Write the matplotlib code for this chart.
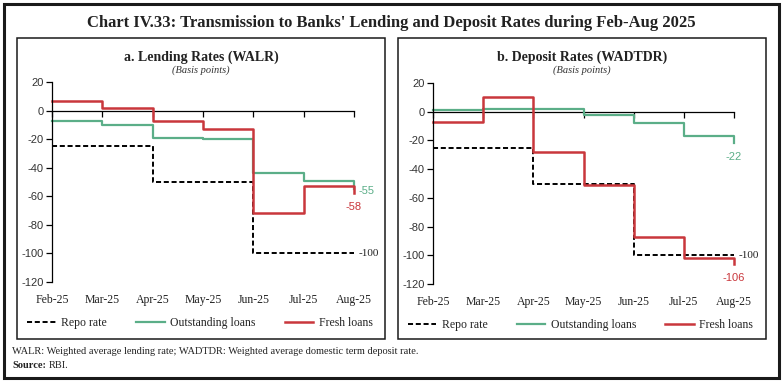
import matplotlib
matplotlib.use('Agg')
import matplotlib.pyplot as plt
import matplotlib.transforms as mtransforms
from matplotlib.patches import Rectangle

plt.rcParams['axes.unicode_minus'] = False

# dates and values (basis points)
months = ['Feb-25', 'Mar-25', 'Apr-25', 'May-25', 'Jun-25', 'Jul-25', 'Aug-25']

repo_rate = [-25, -25, -50, -50, -100, -100, -100]

# a. lending rates (WALR)
walr_outstanding = [-7, -10, -19, -20, -44, -49, -55]
walr_fresh = [7, 2, -7, -13, -72, -53, -58]

# b. deposit rates (WADTDR)
wadtdr_outstanding = [1, 2, 2, -2, -8, -17, -22]
wadtdr_fresh = [-7, 10, -28, -51, -87, -102, -106]

serif = 'Liberation Serif'
sans = 'Liberation Sans'
green = '#5BAE88'
red = '#C9373C'

W, H = 782, 383
fig = plt.figure(figsize=(W / 100, H / 100), dpi=100)

def fx(px):
    return px / W

def fy(py):
    return 1 - py / H

# outer frame and panel boxes
fig.patches.append(Rectangle((fx(4), fy(378)), fx(775), 374 / H, transform=fig.transFigure,
                             fill=False, lw=2.2, ec='#1a1a1a'))
for x0, x1 in [(17, 385), (398, 766)]:
    fig.patches.append(Rectangle((fx(x0), fy(339)), fx(x1 - x0), 301 / H, transform=fig.transFigure,
                                 fill=False, lw=1.1, ec='#1a1a1a'))

fig.text(0.5, fy(23), "Chart IV.33: Transmission to Banks' Lending and Deposit Rates during Feb-Aug 2025",
         ha='center', va='center', fontsize=12, fontweight='bold', family=serif, color='#222222')


def panel(ax, title, center, outstanding, fresh, labels):
    x = list(range(len(months)))
    ax.step(x, repo_rate, where='post', color='black', lw=1.4, ls=(0, (2.6, 1.4)),
            label='Repo rate', clip_on=False)
    ax.step(x, outstanding, where='post', color=green, lw=1.6, label='Outstanding loans', clip_on=False)
    ax.step(x, fresh, where='post', color=red, lw=1.8, label='Fresh loans', clip_on=False)

    ax.set_xlim(0, 6)
    ax.set_ylim(-120, 20)
    ax.set_yticks(range(-120, 21, 20))
    ax.tick_params(axis='y', direction='out', length=4, width=0.9, labelsize=8, pad=2)
    for t in ax.get_yticklabels():
        t.set_family(sans)
        t.set_color('#333333')
    for s in ['top', 'right']:
        ax.spines[s].set_visible(False)
    ax.spines['left'].set_linewidth(0.9)
    ax.spines['bottom'].set_position(('data', 0))
    ax.spines['bottom'].set_linewidth(0.9)
    ax.spines['bottom'].set_zorder(1)
    ax.set_xticks(x)
    ax.tick_params(axis='x', direction='out', length=4, width=0.9, labelbottom=False)
    trans = mtransforms.blended_transform_factory(ax.transData, ax.transAxes)
    for i, m in enumerate(months):
        ax.text(i, -0.09, m, transform=trans, ha='center', va='center', fontsize=8.5,
                family=serif, color='#222222')

    fig.text(center, fy(57), title, ha='center', va='center', fontsize=10, fontweight='bold',
             family=serif, color='#222222')
    fig.text(center, fy(70), '(Basis points)', ha='center', va='center', fontsize=7.5,
             style='italic', family=serif, color='#333333')

    for val, dx, dy, ha, col, fam in labels:
        ax.annotate(str(val), (6, val), xytext=(dx, dy), textcoords='offset points',
                    ha=ha, va='center', fontsize=8, color=col, family=fam, annotation_clip=False)

    leg = ax.legend(loc='center', bbox_to_anchor=(0.49, -0.205), ncol=3, frameon=False,
                    prop={'family': serif, 'size': 8.5}, handlelength=2.4, handletextpad=0.45,
                    columnspacing=2.5)
    for t in leg.get_texts():
        t.set_color('#222222')


ax1 = fig.add_axes([fx(52), fy(282), fx(302), 200 / H])
panel(ax1, 'a. Lending Rates (WALR)', fx(201), walr_outstanding, walr_fresh,
      [(walr_outstanding[-1], 3, -1, 'left', green, sans),
       (walr_fresh[-1], 0, -10, 'center', red, sans),
       (repo_rate[-1], 3, 0, 'left', '#222222', serif)])

ax2 = fig.add_axes([fx(433), fy(284), fx(301), 201 / H])
panel(ax2, 'b. Deposit Rates (WADTDR)', fx(582), wadtdr_outstanding, wadtdr_fresh,
      [(wadtdr_outstanding[-1], 0, -10, 'center', green, sans),
       (repo_rate[-1], 3, 0, 'left', '#222222', serif),
       (wadtdr_fresh[-1], 0, -10, 'center', red, sans)])

fig.text(fx(12), fy(351), 'WALR: Weighted average lending rate; WADTDR: Weighted average domestic term deposit rate.',
         ha='left', va='center', fontsize=7.5, family=serif, color='#222222')
fig.text(fx(12), fy(365), 'Source:', ha='left', va='center', fontsize=7.5, family=serif,
         fontweight='bold', color='#222222')
fig.text(fx(49), fy(365), 'RBI.', ha='left', va='center', fontsize=7.5, family=serif, color='#222222')

fig.savefig('out.png', dpi=100)
